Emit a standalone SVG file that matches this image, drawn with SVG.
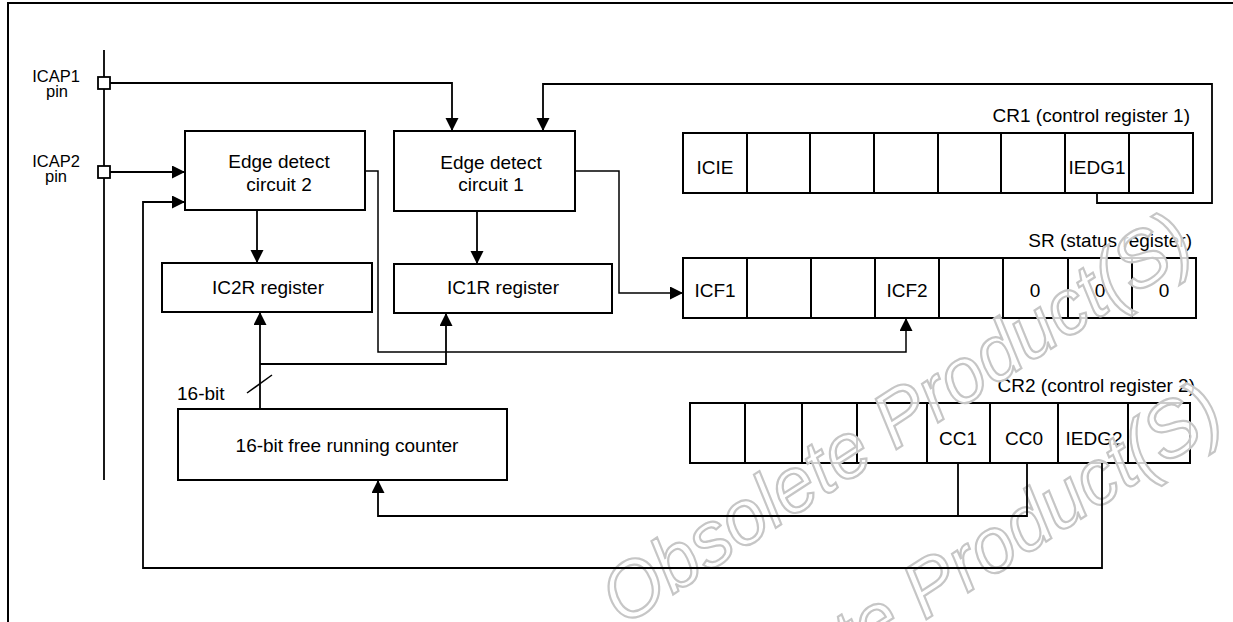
<svg xmlns="http://www.w3.org/2000/svg" width="1233" height="622" viewBox="0 0 1233 622">
  <style>
    text { font-family: "Liberation Sans", Arial, sans-serif; font-size: 19px; fill: #000; }
    .c { text-anchor: middle; }
    .r { text-anchor: end; }
    .lbl { font-size: 16.5px; text-anchor: middle; }
    .box { fill: #fff; stroke: #000; stroke-width: 2; }
    .div { stroke: #000; stroke-width: 2; fill: none; }
    .wire { fill: none; stroke: #000; stroke-width: 1.8; }
    .thin { fill: none; stroke: #000; stroke-width: 1.5; }
    .pin { fill: #fff; stroke: #000; stroke-width: 1.8; }
    .wm { font-family: "Liberation Sans", Arial, sans-serif; font-size: 78px; font-style: italic; fill: #fff; fill-opacity: 0.8; stroke: #c6c6c6; stroke-width: 2.2; }
  </style>
  <defs>
    <marker id="arrow" markerUnits="userSpaceOnUse" markerWidth="14" markerHeight="14" refX="13" refY="6.5" orient="auto">
      <path d="M0,0 L13,6.5 L0,13 z" fill="#000"/>
    </marker>
  </defs>

  <rect width="1233" height="622" fill="#fff"/>
  <!-- page frame -->
  <path d="M8,622 V3 H1233" fill="none" stroke="#000" stroke-width="2"/>

  <!-- input pins -->
  <g id="pin-icap1">
    <text class="lbl"><tspan x="56" y="82">ICAP1</tspan><tspan x="57" y="97">pin</tspan></text>
  </g>
  <g id="pin-icap2">
    <text class="lbl"><tspan x="56" y="167">ICAP2</tspan><tspan x="56" y="182">pin</tspan></text>
  </g>

  <!-- functional blocks -->
  <g id="edge-detect-2">
    <rect class="box" x="185" y="131" width="180" height="79"/>
    <text class="c" x="279" y="168">Edge detect</text>
    <text class="c" x="279" y="191">circuit 2</text>
  </g>
  <g id="edge-detect-1">
    <rect class="box" x="394" y="131" width="181" height="80"/>
    <text class="c" x="491" y="169">Edge detect</text>
    <text class="c" x="491" y="191">circuit 1</text>
  </g>
  <g id="ic2r">
    <rect class="box" x="162" y="263" width="210" height="49"/>
    <text class="c" x="268" y="294">IC2R register</text>
  </g>
  <g id="ic1r">
    <rect class="box" x="394" y="264" width="218" height="49"/>
    <text class="c" x="503" y="294">IC1R register</text>
  </g>
  <g id="counter">
    <rect class="box" x="178" y="409" width="329" height="71"/>
    <text class="c" x="347" y="452">16-bit free running counter</text>
  </g>

  <!-- CR1 control register 1 -->
  <g id="cr1">
    <text class="r" x="1190" y="122">CR1 (control register 1)</text>
    <rect class="box" x="683" y="133" width="510" height="60"/>
    <path class="div" d="M747,133 V193 M810,133 V193 M874,133 V193 M938,133 V193 M1001,133 V193 M1065,133 V193 M1129,133 V193"/>
    <text class="c" x="715" y="174">ICIE</text>
    <text class="c" x="1097" y="174">IEDG1</text>
  </g>

  <!-- SR status register -->
  <g id="sr">
    <text class="r" x="1192" y="247">SR (status register)</text>
    <rect class="box" x="683" y="258" width="513" height="60"/>
    <path class="div" d="M747,258 V318 M811,258 V318 M875,258 V318 M939,258 V318 M1003,258 V318 M1068,258 V318 M1132,258 V318"/>
    <text class="c" x="715" y="297">ICF1</text>
    <text class="c" x="907" y="297">ICF2</text>
    <text class="c" x="1035" y="297">0</text>
    <text class="c" x="1100" y="297">0</text>
    <text class="c" x="1164" y="297">0</text>
  </g>

  <!-- CR2 control register 2 -->
  <g id="cr2">
    <text class="r" x="1195" y="392">CR2 (control register 2)</text>
    <rect class="box" x="690" y="403" width="500" height="60"/>
    <path class="div" d="M745,403 V463 M802,403 V463 M857,403 V463 M927,403 V463 M990,403 V463 M1058,403 V463 M1128,403 V463"/>
    <text class="c" x="958" y="445">CC1</text>
    <text class="c" x="1024" y="445">CC0</text>
    <text class="c" x="1094" y="445">IEDG2</text>
  </g>

  <!-- background stamp, lines drawn over it -->
  <g id="stamp">
    <text class="wm" transform="translate(623,627) rotate(-33) scale(0.97,1)">Obsolete Product(S)</text>
    <text class="wm" transform="translate(653,797) rotate(-33) scale(0.97,1)">Obsolete Product(S)</text>
  </g>

  <!-- connectors -->
  <g id="connectors">
    <path class="wire" d="M104,50 V480"/>
    <path class="wire" d="M110,83 H452 V131" marker-end="url(#arrow)"/>
    <path class="wire" d="M110,172 H185" marker-end="url(#arrow)"/>
    <path class="wire" d="M1097,193 V203 H1212 V84 H543 V131" marker-end="url(#arrow)"/>
    <path class="wire" d="M1102,463 V568 H143 V202 H185" marker-end="url(#arrow)"/>
    <path class="wire" d="M257,210 V263" marker-end="url(#arrow)"/>
    <path class="wire" d="M477,211 V264" marker-end="url(#arrow)"/>
    <path class="thin" d="M575,171 H619 V293 H683" marker-end="url(#arrow)"/>
    <path class="thin" d="M365,171 H378 V352 H906 V318" marker-end="url(#arrow)"/>
    <path class="wire" d="M260,409 V312" marker-end="url(#arrow)"/>
    <path class="wire" d="M260,364 H446 V313" marker-end="url(#arrow)"/>
    <path class="wire" d="M958,463 V516"/>
    <path class="wire" d="M1027,463 V516 H378 V480" marker-end="url(#arrow)"/>
    <path class="thin" d="M247,393 L272,375"/>
    <text x="177" y="400">16-bit</text>
    <rect class="pin" x="98" y="77" width="12" height="12"/>
    <rect class="pin" x="98" y="166" width="12" height="12"/>
  </g>
</svg>
